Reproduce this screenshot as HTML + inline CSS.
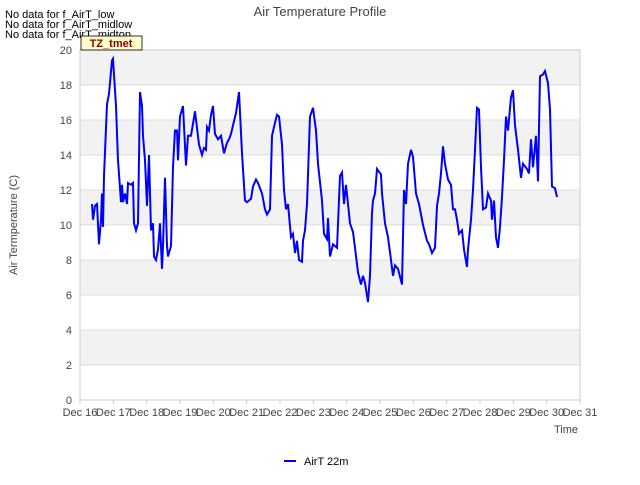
<!DOCTYPE html>
<html><head><meta charset="utf-8"><style>
body{margin:0;background:#fff;font-family:"Liberation Sans",sans-serif}
svg text{font-family:"Liberation Sans",sans-serif}
</style></head><body>
<svg id="chart" width="640" height="480" xmlns="http://www.w3.org/2000/svg">
<rect width="640" height="480" fill="#fff"/>
<g id="bands"></g><g id="grid"></g>
<rect x="80" y="50" width="500" height="350" fill="none" stroke="#ccc"/>
<g id="yt"></g><g id="xt"></g>
<path id="line" fill="none" stroke="#0000ff" stroke-width="2"/>
<text x="320" y="16" text-anchor="middle" font-size="13" fill="#444">Air Temperature Profile</text>
<text x="17" y="225" text-anchor="middle" font-size="11" fill="#444" transform="rotate(-90 17 225)">Air Termperature (C)</text>
<text x="578" y="433" text-anchor="end" font-size="11" fill="#444">Time</text>
<text x="5" y="18" font-size="11" fill="#000">No data for f_AirT_low</text>
<text x="5" y="28" font-size="11" fill="#000">No data for f_AirT_midlow</text>
<text x="5" y="38" font-size="11" fill="#000">No data for f_AirT_midtop</text>
<g><rect x="81" y="36" width="61" height="14" fill="#ffffcc" stroke="#000" stroke-width="0.8"/>
<text x="111" y="47" text-anchor="middle" font-size="11" font-weight="bold" fill="#8b0000">TZ_tmet</text></g>
<g><line x1="284" y1="461" x2="296" y2="461" stroke="#0000ff" stroke-width="2"/>
<text x="304" y="465" font-size="11" fill="#000">AirT 22m</text></g>
</svg>
<script>
const days=[0.36,0.39,0.45,0.51,0.57,0.63,0.66,0.69,0.72,0.81,0.87,0.96,0.99,1.08,1.14,1.23,1.26,1.29,1.35,1.41,1.44,1.53,1.59,1.62,1.68,1.74,1.80,1.86,1.89,1.95,2.01,2.07,2.13,2.19,2.22,2.28,2.34,2.40,2.46,2.49,2.55,2.61,2.64,2.73,2.79,2.85,2.91,2.94,3.00,3.09,3.18,3.24,3.33,3.45,3.57,3.66,3.72,3.78,3.81,3.87,3.93,3.99,4.05,4.14,4.23,4.32,4.41,4.47,4.53,4.59,4.68,4.77,4.86,4.95,5.01,5.13,5.19,5.28,5.34,5.46,5.55,5.61,5.70,5.76,5.82,5.91,5.97,6.06,6.12,6.18,6.24,6.33,6.39,6.45,6.51,6.57,6.66,6.69,6.75,6.81,6.90,6.99,7.08,7.14,7.26,7.32,7.41,7.44,7.50,7.59,7.71,7.80,7.86,7.92,7.98,8.10,8.19,8.25,8.34,8.43,8.49,8.55,8.64,8.70,8.76,8.79,8.85,8.91,9.03,9.06,9.15,9.24,9.33,9.39,9.45,9.54,9.66,9.72,9.78,9.84,9.93,9.99,10.08,10.17,10.26,10.29,10.41,10.47,10.56,10.65,10.71,10.77,10.83,10.89,10.95,11.04,11.13,11.19,11.25,11.31,11.37,11.46,11.52,11.61,11.64,11.73,11.79,11.85,11.91,11.97,12.03,12.09,12.18,12.24,12.33,12.36,12.42,12.48,12.54,12.60,12.66,12.72,12.78,12.84,12.93,12.99,13.05,13.14,13.23,13.29,13.41,13.47,13.53,13.59,13.68,13.74,13.80,13.89,13.95,14.04,14.10,14.16,14.25,14.31];
const temps=[11.2,10.3,11.1,11.2,8.9,10.3,11.8,9.9,12.8,16.9,17.5,19.4,19.5,16.8,13.7,11.3,12.3,11.3,11.8,11.2,12.4,12.3,12.4,10.1,9.7,10.1,17.6,16.8,15.1,13.7,11.1,14.0,9.7,10.1,8.2,8.0,8.6,10.1,7.5,8.8,12.7,8.8,8.2,8.8,13.3,15.4,15.4,13.7,16.2,16.8,13.4,15.1,15.1,16.5,14.6,14.0,14.4,14.3,15.6,15.4,16.3,16.8,15.2,14.9,15.1,14.1,14.7,14.9,15.2,15.7,16.4,17.6,14.1,11.4,11.3,11.5,12.2,12.6,12.4,11.8,10.9,10.6,10.9,15.1,15.6,16.3,16.2,14.6,12.0,10.9,11.2,9.3,9.5,8.4,9.1,8.0,7.9,9.1,9.7,11.2,16.2,16.7,15.4,13.5,11.4,9.5,9.2,10.4,8.2,8.9,8.7,12.8,13.0,11.2,12.3,10.1,9.6,8.7,7.3,6.6,7.1,6.7,5.6,7.1,10.7,11.4,11.8,13.2,12.9,11.8,10.1,9.3,8.0,7.1,7.7,7.5,6.6,12.0,11.2,13.5,14.3,13.9,11.8,11.2,10.3,10.0,9.1,8.9,8.4,8.7,11.1,11.8,12.95,14.5,13.5,12.6,12.3,10.9,10.9,10.3,9.5,9.7,8.6,7.6,8.6,10.3,12.0,14.3,16.7,16.6,13.3,10.9,11.0,11.8,11.4,10.3,11.4,9.3,8.7,9.9,11.6,13.7,16.2,15.4,17.3,17.7,15.7,14.3,12.7,13.5,13.2,12.95,14.9,13.3,15.1,12.5,18.5,18.6,18.8,18.1,16.6,12.2,12.1,11.6];
const yTicks=[0,2,4,6,8,10,12,14,16,18,20];
const xTicks=["Dec 16","Dec 17","Dec 18","Dec 19","Dec 20","Dec 21","Dec 22","Dec 23","Dec 24","Dec 25","Dec 26","Dec 27","Dec 28","Dec 29","Dec 30","Dec 31"];
const NS="http://www.w3.org/2000/svg";
const X=d=>80+d*500/15, Y=v=>400-v*350/20;
function mk(t,a,p){const e=document.createElementNS(NS,t);for(const k in a)e.setAttribute(k,a[k]);p.appendChild(e);return e;}
const bands=document.getElementById('bands'),grid=document.getElementById('grid'),yt=document.getElementById('yt'),xt=document.getElementById('xt');
for(let i=0;i<yTicks.length-1;i++){ if(i%2===1){const r=mk('rect',{x:80,y:Y(yTicks[i+1]),width:500,height:Y(yTicks[i])-Y(yTicks[i+1]),fill:'#f2f2f2'},bands);

}}
yTicks.forEach(v=>{const l=mk('line',{x1:80,x2:580,y1:Y(v),y2:Y(v),stroke:'#dddddd'},grid);


const t=mk('text',{x:72,y:Y(v)+4,'text-anchor':'end','font-size':11,fill:'#444'},yt);t.textContent=v;

});
xTicks.forEach((s,i)=>{const l=mk('line',{x1:X(i),x2:X(i),y1:400,y2:404,stroke:'#ccc'},xt);


const t=mk('text',{x:X(i),y:416,'text-anchor':'middle','font-size':11,fill:'#444'},xt);t.textContent=s;

});
document.getElementById('line').setAttribute('d',days.map((d,i)=>(i?'L':'M')+X(d).toFixed(1)+','+Y(temps[i]).toFixed(1)).join(''));
</script>
</body></html>
